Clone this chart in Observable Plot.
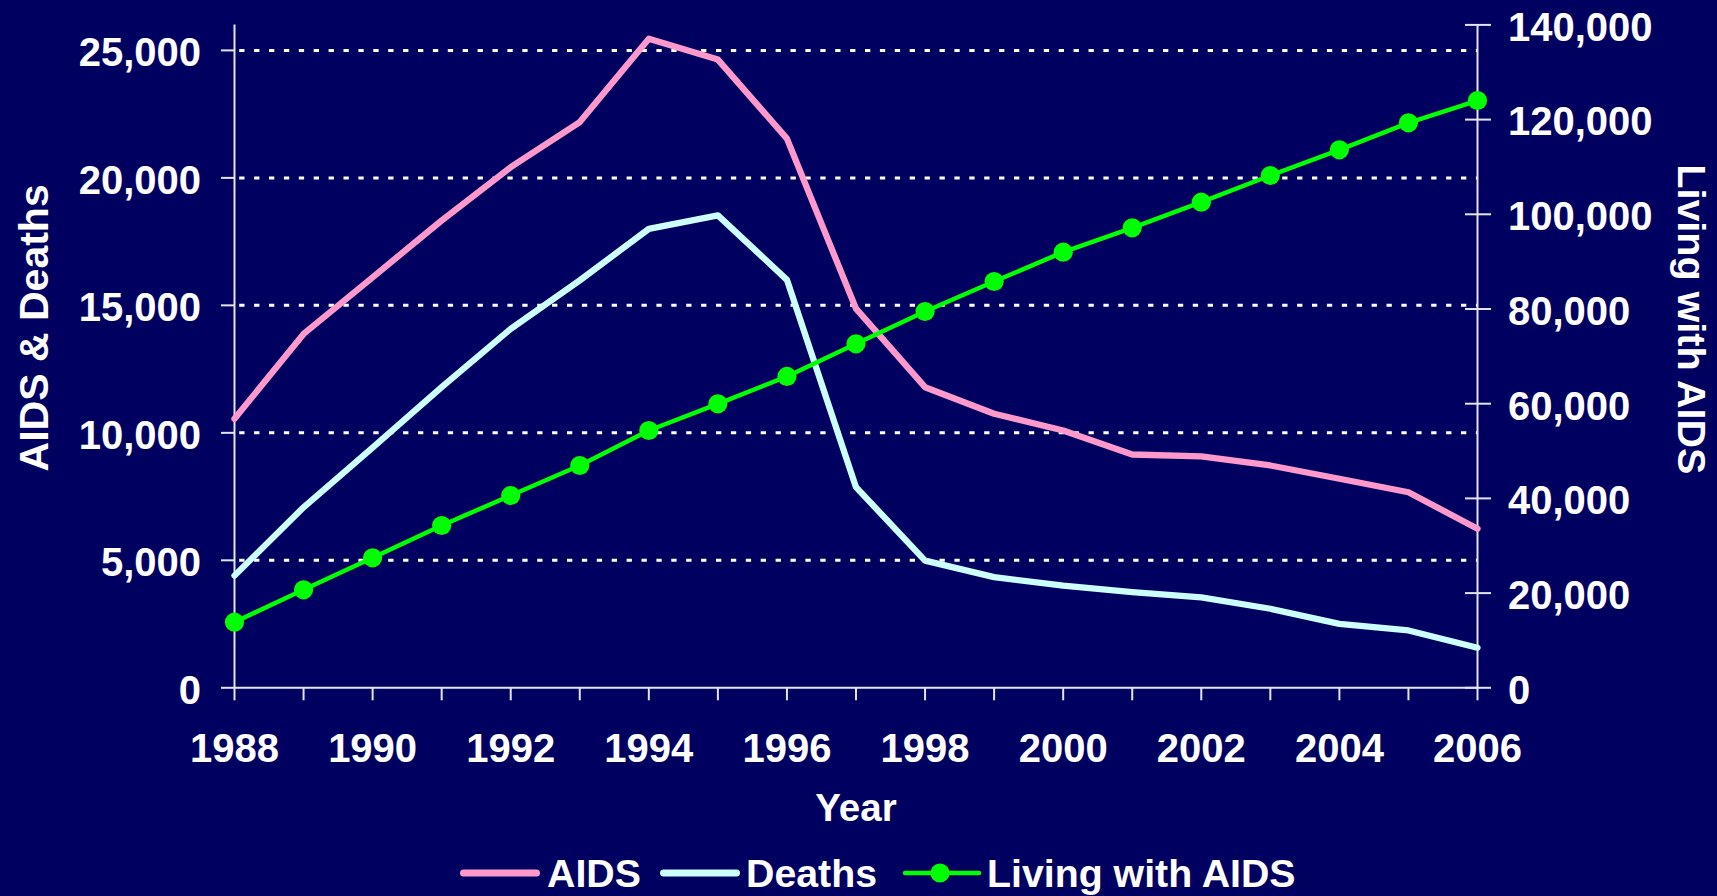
<!DOCTYPE html>
<html><head><meta charset="utf-8">
<script src="https://cdn.jsdelivr.net/npm/d3@7"></script>
<script src="https://cdn.jsdelivr.net/npm/@observablehq/plot@0.6"></script>
<style>
html,body{margin:0;padding:0;background:#000060;}
#wrap{position:relative;width:1717px;height:896px;overflow:hidden;background:#000060;}
#legend{position:absolute;left:0;top:849px;width:1717px;height:47px;font:bold 39.3px "Liberation Sans",Arial,sans-serif;color:#fff;}
#legend .sw{position:absolute;top:13.7px;}
#legend .lb{position:absolute;top:1px;line-height:47px;white-space:nowrap;}
</style></head><body><div id="wrap"><div id="chart"></div><div id="legend"></div></div>
<script>
// ---- data ----
const years = [1988,1989,1990,1991,1992,1993,1994,1995,1996,1997,1998,1999,2000,2001,2002,2003,2004,2005,2006];
const aids = [10550,13880,16100,18330,20420,22190,25460,24640,21540,14870,11790,10750,10090,9150,9080,8720,8200,7670,6240];
const deaths = [4400,7080,9420,11790,14080,15980,18000,18530,16000,7870,4990,4340,4010,3750,3550,3100,2510,2250,1570];
const living = [13860,20700,27460,34280,40610,46950,54340,59980,65750,72650,79470,85810,92000,97150,102560,108190,113620,119320,124030];
const leftTicks = [0,5000,10000,15000,20000,25000];
const gridTicks = [5000,10000,15000,20000,25000];
const rightTicks = [0,20000,40000,60000,80000,100000,120000,140000];
const xLabelYears = [1988,1990,1992,1994,1996,1998,2000,2002,2004,2006];
const seriesNames = ["AIDS","Deaths","Living with AIDS"];
const colors = ["#FF99CC","#CCFFFF","#00FF00"];
const leftMax = 26000, rightMax = 140000;

// ---- build ----
const k = leftMax / rightMax;
const fmt = d3.format(",");
const aidsData = years.map((y,i)=>({year:y, value:aids[i]}));
const deathsData = years.map((y,i)=>({year:y, value:deaths[i]}));
const livingData = years.map((y,i)=>({year:y, value:living[i]}));
const axisColor = "#E4E4EE";
const H = 849;

const chart = Plot.plot({
  width: 1717, height: H,
  marginLeft: 234, marginRight: 240, marginTop: 24.4, marginBottom: H - 687.3,
  x: {domain: [1988, 2006], label: null},
  y: {domain: [0, leftMax], label: null},
  style: {background: "transparent", color: "white", fontFamily: "'Liberation Sans', Arial, sans-serif", fontWeight: "bold", fontSize: "40px", overflow: "visible"},
  marks: [
    Plot.gridY(gridTicks, {stroke: "white", strokeOpacity: 1, strokeWidth: 3, strokeDasharray: "5.3,9.6", strokeDashoffset: 9.7}),
    Plot.ruleX([1988], {stroke: axisColor, strokeWidth: 2}),
    Plot.ruleX([2006], {stroke: axisColor, strokeWidth: 2}),
    Plot.ruleY([0], {stroke: axisColor, strokeWidth: 2}),
    // left axis
    Plot.axisY(leftTicks, {anchor: "left", tickSize: 13, fill: "none", stroke: axisColor, strokeWidth: 2, label: null}),
    Plot.axisY(leftTicks, {anchor: "left", tickSize: 0, tickPadding: 33.5, stroke: "none", tickFormat: fmt, dy: 3, label: null}),
    // right axis
    Plot.axisY(rightTicks.map(v => v * k), {anchor: "right", tickSize: 26, dx: -13, fill: "none", stroke: axisColor, strokeWidth: 2, label: null}),
    Plot.axisY(rightTicks.map(v => v * k), {anchor: "right", tickSize: 0, tickPadding: 30.5, stroke: "none", tickFormat: v => fmt(Math.round(v / k)), dy: 3, label: null}),
    // x axis
    Plot.axisX(years, {tickSize: 13, fill: "none", stroke: axisColor, strokeWidth: 2, label: null}),
    Plot.axisX(xLabelYears, {tickSize: 0, tickPadding: 46, stroke: "none", tickFormat: d => String(d), label: null}),
    // titles
    Plot.text(["Year"], {text: d => d, frameAnchor: "bottom", textAnchor: "middle", lineAnchor: "middle", dy: 121, fontSize: 38.5, fill: "white"}),
    Plot.text(["AIDS & Deaths"], {text: d => d, frameAnchor: "left", textAnchor: "middle", lineAnchor: "middle", rotate: -90, dx: -199.5, dy: -28.5, fontSize: 41, fill: "white"}),
    Plot.text(["Living with AIDS"], {text: d => d, frameAnchor: "right", textAnchor: "middle", lineAnchor: "middle", rotate: 90, dx: 213, dy: -37, fontSize: 39.5, fill: "white"}),
    // series
    Plot.line(aidsData, {x: "year", y: "value", stroke: colors[0], strokeWidth: 6.3, strokeLinejoin: "round", strokeLinecap: "round"}),
    Plot.line(deathsData, {x: "year", y: "value", stroke: colors[1], strokeWidth: 6.3, strokeLinejoin: "round", strokeLinecap: "round"}),
    Plot.line(livingData, {x: "year", y: d => d.value * k, stroke: colors[2], strokeWidth: 4.5, strokeLinejoin: "round"}),
    Plot.dot(livingData, {x: "year", y: d => d.value * k, r: 9.6, fill: colors[2], stroke: "none"})
  ]
});
document.getElementById("chart").appendChild(chart);

// ---- legend (below the svg) ----
const legend = document.getElementById("legend");
const swX = [459.6, 659.6, 902.5];
const lbX = [547, 746, 987];
seriesNames.forEach((name, i) => {
  const w = 80;
  const svg = d3.create("svg").attr("class", "sw").attr("width", w).attr("height", 20)
    .style("left", swX[i] + "px").style("overflow", "visible");
  if (i < 2) {
    svg.append("line").attr("x1", 3.5).attr("x2", w - 3.5).attr("y1", 10).attr("y2", 10)
      .attr("stroke", colors[i]).attr("stroke-width", 7).attr("stroke-linecap", "round");
  } else {
    svg.append("line").attr("x1", 2).attr("x2", w - 4).attr("y1", 10).attr("y2", 10)
      .attr("stroke", colors[i]).attr("stroke-width", 4.5).attr("stroke-linecap", "round");
    svg.append("circle").attr("cx", 37).attr("cy", 10).attr("r", 9.6).attr("fill", colors[i]);
  }
  legend.appendChild(svg.node());
  const lb = document.createElement("span");
  lb.className = "lb";
  lb.style.left = lbX[i] + "px";
  lb.textContent = name;
  legend.appendChild(lb);
});
</script>
</body></html>
